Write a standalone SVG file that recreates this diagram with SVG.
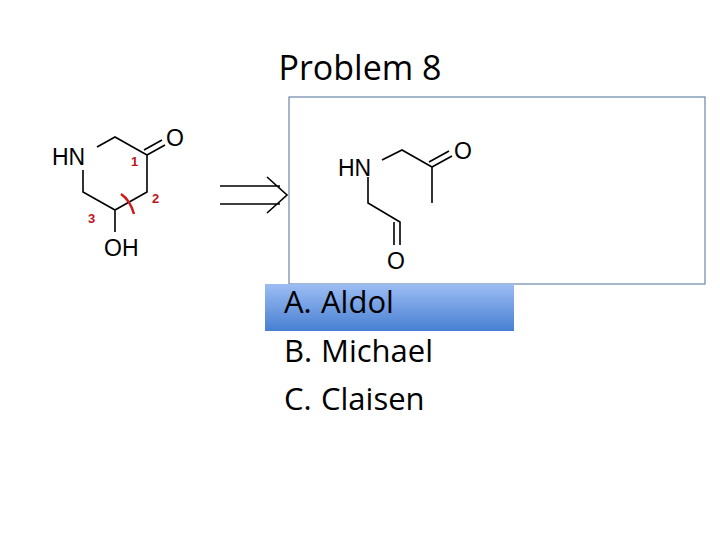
<svg xmlns="http://www.w3.org/2000/svg" width="720" height="540" viewBox="0 0 720 540">
<style>
.b{stroke:#000;stroke-width:1.6;fill:none}
.a{font-family:"Liberation Sans",Arial,sans-serif;font-size:23px;fill:#000}
.r{font-family:"Liberation Sans",Arial,sans-serif;font-size:13px;font-weight:bold;fill:#c0141c}
.t{font-family:"Open Sans","Liberation Sans",sans-serif;fill:#000}
</style>
<defs>
<linearGradient id="g" x1="0" y1="0" x2="0" y2="1">
<stop offset="0" stop-color="#9dbdf3"/><stop offset="1" stop-color="#477fd2"/>
</linearGradient>
</defs>
<rect width="720" height="540" fill="#fff"/>
<text class="t" x="360" y="80" font-size="34" text-anchor="middle">Problem 8</text>
<g id="reactant">
<text class="a" x="52" y="165">HN</text>
<text class="a" x="166" y="146">O</text>
<text class="a" x="104" y="256">OH</text>
<path class="b" d="M97 147 L115 137 L147 155 L147 192 L115 210 L83 192 L83 170 M115 210 L115 232"/>
<path class="b" d="M147 155 L165 145 M144 150 L162 140"/>
<path d="M121 194 Q130 200 134 214" stroke="#d01818" stroke-width="2.5" fill="none"/>
<text class="r" x="131" y="166">1</text>
<text class="r" x="152" y="203">2</text>
<text class="r" x="88" y="223">3</text>
</g>
<g id="arrow">
<path class="b" d="M220 186 L280 186 M220 204 L280 204 M267 177 L287 195 L267 213" stroke-width="1.3"/>
</g>
<g id="product">
<rect x="289" y="97" width="416" height="187" fill="#fff" stroke="#6b87a8" stroke-width="1.2"/>
<text class="a" x="338" y="176">HN</text>
<text class="a" x="454" y="159">O</text>
<text class="a" x="387" y="269">O</text>
<path class="b" d="M382 160 L402 150 L432 167 L432 203 M368 177 L368 203 L400 222 L400 245 M394 222 L394 245" stroke-width="1.3"/>
<path class="b" d="M432 167 L452 156 M429 162 L449 151" stroke-width="1.3"/>
</g>
<g id="options">
<rect x="265" y="284" width="249" height="47" fill="url(#g)"/>
<text class="t" x="284" y="313" font-size="31">A.</text><text class="t" x="321" y="313" font-size="31">Aldol</text>
<text class="t" x="284" y="362" font-size="31">B.</text><text class="t" x="321" y="362" font-size="31">Michael</text>
<text class="t" x="284" y="410" font-size="31">C.</text><text class="t" x="321" y="410" font-size="31">Claisen</text>
</g>
</svg>
